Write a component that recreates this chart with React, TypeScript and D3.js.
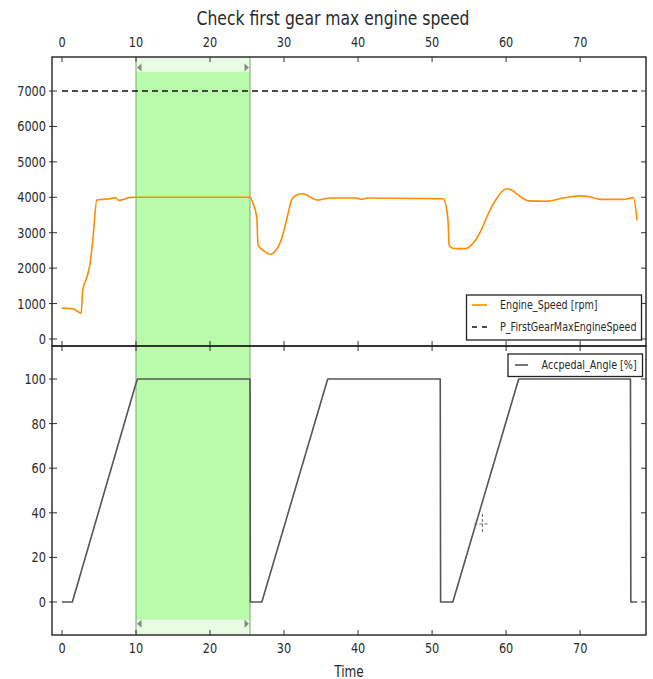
import React from "react";
import * as d3 from "d3";

// ---------- data ----------
const speedTime = [0, 1.5, 2.6, 2.8, 3.3, 3.8, 4.2, 4.7, 5.5, 6.5, 7.2, 7.7, 8.5, 9.0, 10, 25.4, 25.8, 26.3, 26.5, 27.2, 28.1, 28.7, 29.2, 29.7, 30.1, 30.5, 31.0, 31.6, 32.4, 33.0, 33.5, 34.0, 34.6, 36.2, 39.8, 40.5, 41.2, 51.5, 52.0, 52.2, 52.3, 52.7, 53.1, 54.5, 55.3, 56.0, 56.7, 57.4, 58.1, 58.7, 59.4, 60.1, 60.8, 61.4, 62.2, 63.0, 65.5, 67.7, 70.0, 71.4, 72.7, 75.9, 77.2, 77.7];
const speedRpm = [870, 850, 730, 1380, 1700, 2140, 2880, 3920, 3940, 3960, 3990, 3910, 3950, 3990, 4000, 4000, 3830, 3450, 2650, 2500, 2390, 2450, 2600, 2850, 3160, 3500, 3920, 4050, 4100, 4070, 4010, 3950, 3920, 3980, 3980, 3940, 3980, 3960, 3630, 3160, 2650, 2570, 2550, 2550, 2650, 2830, 3100, 3450, 3750, 3960, 4150, 4240, 4200, 4100, 3980, 3900, 3890, 3980, 4040, 4010, 3940, 3940, 3990, 3350];
const pedalTime = [0, 1.4, 9.9, 10.2, 25.4, 25.45, 27.0, 35.9, 51.1, 51.15, 52.8, 61.7, 76.8, 76.85, 77.7];
const pedalAngle = [0, 0, 97, 100, 100, 0, 0, 100, 100, 0, 0, 100, 100, 0, 0];
const maxEngineSpeed = 7000;
const spanStart = 10;
const spanEnd = 25.4;
const spanTopStrong = 7540;
const spanBottomStrong = -8;
const xTicks = [0, 10, 20, 30, 40, 50, 60, 70];
const speedTicks = [0, 1000, 2000, 3000, 4000, 5000, 6000, 7000];
const pedalTicks = [0, 20, 40, 60, 80, 100];
const title = "Check first gear max engine speed";
const xLabel = "Time";
const legendTop = ["Engine_Speed [rpm]", "P_FirstGearMaxEngineSpeed"];
const legendBottom = ["Accpedal_Angle [%]"];
const cursor = [56.8, 35];

// ---------- layout ----------
const W = 653, H = 679;
const L = 52, R = 646, T1 = 57, B1 = 346, T2 = 346, B2 = 635;
const SX = 0.78;
const FONT = "DejaVu Sans, sans-serif";

const x = d3.scaleLinear().domain([-1.35, 78.9]).range([L, R]);
const y1 = d3.scaleLinear().domain([-198, 7960]).range([B1, T1]);
const y2 = d3.scaleLinear().domain([-14.8, 114.8]).range([B2, T2]);

function Txt({ x, y, size, anchor = "middle", children }: any) {
  return (
    <text
      transform={`translate(${x},${y}) scale(${SX},1)`}
      textAnchor={anchor}
      fontSize={size}
      fontFamily={FONT}
      fill="#2a2a2a"
      dominantBaseline="central"
    >
      {children}
    </text>
  );
}

export default function App() {
  const speedLine = d3
    .line<number>()
    .x((_, i) => x(speedTime[i]))
    .y((d) => y1(d))
    .curve(d3.curveMonotoneX)(speedRpm) as string;
  const pedalLine = d3
    .line<number>()
    .x((_, i) => x(pedalTime[i]))
    .y((d) => y2(d))(pedalAngle) as string;

  const sx0 = x(spanStart), sx1 = x(spanEnd);
  const tk = 5;

  const tri = (cx: number, cy: number, dir: number) =>
    `M${cx},${cy} L${cx + dir * 4.5},${cy - 4} L${cx + dir * 4.5},${cy + 4} Z`;

  return (
    <svg width={W} height={H} style={{ position: "absolute", left: 0, top: 0, background: "#fff" }}>
      <rect x={0} y={0} width={W} height={H} fill="#fff" />
      {/* spans */}
      <rect x={sx0} y={T1} width={sx1 - sx0} height={y1(spanTopStrong) - T1} fill="#e8fce4" />
      <rect x={sx0} y={y1(spanTopStrong)} width={sx1 - sx0} height={B1 - y1(spanTopStrong)} fill="#b9fbab" />
      <rect x={sx0} y={T2} width={sx1 - sx0} height={y2(spanBottomStrong) - T2} fill="#b9fbab" />
      <rect x={sx0} y={y2(spanBottomStrong)} width={sx1 - sx0} height={B2 - y2(spanBottomStrong)} fill="#e8fce4" />
      {[sx0, sx1].map((v, i) => (
        <line key={i} x1={v} x2={v} y1={T1} y2={B2} stroke="#86b77e" strokeWidth={1.2} />
      ))}
      <path d={tri(sx0 + 1, (T1 + y1(spanTopStrong)) / 2 + 3, 1)} fill="#888" />
      <path d={tri(sx1 - 1, (T1 + y1(spanTopStrong)) / 2 + 3, -1)} fill="#888" />
      <path d={tri(sx0 + 1, y2(spanBottomStrong) + 4, 1)} fill="#888" />
      <path d={tri(sx1 - 1, y2(spanBottomStrong) + 4, -1)} fill="#888" />

      {/* threshold */}
      <line x1={x(0)} x2={x(77.7)} y1={y1(maxEngineSpeed)} y2={y1(maxEngineSpeed)} stroke="#111" strokeWidth={1.3} strokeDasharray="6,4" />
      {/* lines */}
      <path d={speedLine} fill="none" stroke="#ff8c00" strokeWidth={1.6} strokeLinejoin="round" />
      <path d={pedalLine} fill="none" stroke="#555" strokeWidth={1.6} strokeLinejoin="round" />

      {/* ticks */}
      {xTicks.map((t) => (
        <g key={t} stroke="#333" strokeWidth={1}>
          <line x1={x(t)} x2={x(t)} y1={T1} y2={T1 + tk} />
          <line x1={x(t)} x2={x(t)} y1={B1} y2={B1 - tk} />
          <line x1={x(t)} x2={x(t)} y1={T2} y2={T2 + tk} />
          <line x1={x(t)} x2={x(t)} y1={B2} y2={B2 - tk} />
        </g>
      ))}
      {speedTicks.map((t) => (
        <g key={t} stroke="#333" strokeWidth={1}>
          <line x1={L - 3} x2={L + tk} y1={y1(t)} y2={y1(t)} />
          <line x1={R} x2={R - tk} y1={y1(t)} y2={y1(t)} />
        </g>
      ))}
      {pedalTicks.map((t) => (
        <g key={t} stroke="#333" strokeWidth={1}>
          <line x1={L - 3} x2={L + tk} y1={y2(t)} y2={y2(t)} />
          <line x1={R} x2={R - tk} y1={y2(t)} y2={y2(t)} />
        </g>
      ))}

      {/* frames */}
      <rect x={L} y={T1} width={R - L} height={B1 - T1} fill="none" stroke="#222" strokeWidth={1.4} />
      <rect x={L} y={T2} width={R - L} height={B2 - T2} fill="none" stroke="#222" strokeWidth={1.4} />

      {/* tick labels */}
      {xTicks.map((t) => (
        <Txt key={"xt" + t} x={x(t)} y={42} size={14.5}>{t}</Txt>
      ))}
      {xTicks.map((t) => (
        <Txt key={"xb" + t} x={x(t)} y={648} size={14.5}>{t}</Txt>
      ))}
      {speedTicks.map((t) => (
        <Txt key={"s" + t} x={46} y={y1(t)} size={14.5} anchor="end">{t}</Txt>
      ))}
      {pedalTicks.map((t) => (
        <Txt key={"p" + t} x={46} y={y2(t)} size={14.5} anchor="end">{t}</Txt>
      ))}

      <Txt x={333} y={18} size={20}>{title}</Txt>
      <Txt x={(L + R) / 2} y={671} size={15.5}>{xLabel}</Txt>

      {/* legends */}
      <rect x={466.5} y={295} width={175} height={45} fill="#fff" stroke="#222" strokeWidth={1.3} />
      <line x1={472} x2={487} y1={305} y2={305} stroke="#ff8c00" strokeWidth={1.6} />
      <Txt x={500} y={305} size={12.3} anchor="start">{legendTop[0]}</Txt>
      <line x1={472} x2={487} y1={327} y2={327} stroke="#111" strokeWidth={1.4} strokeDasharray="5,5" />
      <Txt x={500} y={327} size={12.3} anchor="start">{legendTop[1]}</Txt>

      <rect x={508} y={354} width={134.5} height={22.5} fill="#fff" stroke="#222" strokeWidth={1.3} />
      <line x1={515} x2={528} y1={365} y2={365} stroke="#555" strokeWidth={1.6} />
      <Txt x={541.5} y={365} size={12.3} anchor="start">{legendBottom[0]}</Txt>

      {/* cursor */}
      <g stroke="#666" strokeWidth={1} strokeDasharray="3,2">
        <line x1={x(cursor[0]) - 8} x2={x(cursor[0]) + 7} y1={y2(cursor[1])} y2={y2(cursor[1])} />
        <line x1={x(cursor[0])} x2={x(cursor[0])} y1={y2(cursor[1]) - 10} y2={y2(cursor[1]) + 9} />
      </g>
    </svg>
  );
}
